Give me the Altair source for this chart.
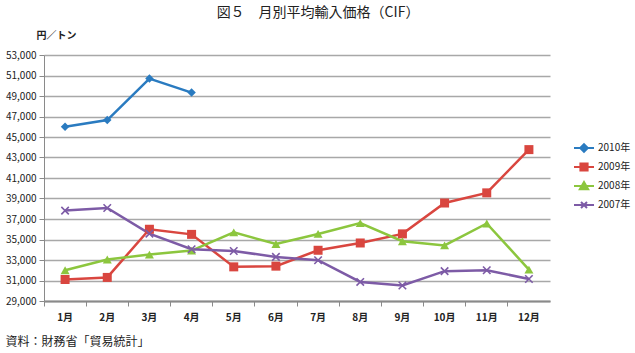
import altair as alt
import pandas as pd

months = ["1月", "2月", "3月", "4月", "5月", "6月", "7月", "8月", "9月", "10月", "11月", "12月"]
series_names = ["2010年", "2009年", "2008年", "2007年"]
v2010 = [46000, 46650, 50700, 49330]
v2009 = [31100, 31300, 36000, 35500, 32330, 32400, 33950, 34660, 35550, 38560, 39550, 43770]
v2008 = [32000, 33050, 33530, 33920, 35700, 34560, 35540, 36600, 34830, 34420, 36560, 32070]
v2007 = [37820, 38070, 35570, 34050, 33880, 33300, 32980, 30860, 30510, 31910, 32000, 31150]
y_ticks = [29000, 31000, 33000, 35000, 37000, 39000, 41000, 43000, 45000, 47000, 49000, 51000, 53000]

colors = ["#2a7bc0", "#d9463f", "#8cc63e", "#7d5ba6"]
marker_shapes = ["diamond", "square", "triangle-up", "M-1,-1L1,1M-1,1L1,-1"]
marker_sizes = [72, 81, 81, 56]
legend_shapes = [
    "M-1,0H1M0,-0.38L0.38,0L0,0.38L-0.38,0Z",
    "M-1,0H1M-0.36,-0.36H0.36V0.36H-0.36Z",
    "M-1,0H1M0,-0.4L0.42,0.33L-0.42,0.33Z",
    "M-1,0H1M-0.3,-0.3L0.3,0.3M-0.3,0.3L0.3,-0.3",
]

rows = []
for name, vals in zip(series_names, [v2010, v2009, v2008, v2007]):
    for m, v in zip(months, vals):
        rows.append({"month": m, "series": name, "value": v})
df = pd.DataFrame(rows)

FONT = "Noto Sans CJK JP"
xscale = alt.Scale(type="band", paddingInner=0, paddingOuter=0)
yenc = alt.Y(
    "value:Q",
    scale=alt.Scale(domain=[29000, 53000], nice=False, zero=False),
    axis=alt.Axis(
        values=y_ticks, format=",d", title="円／トン", titleAngle=0, titleX=-8, titleY=-20,
        titleAlign="left", titleBaseline="middle", titleFont=FONT, titleFontSize=10,
        titleFontWeight="bold", titleColor="#222", gridColor="#a8a8a8", gridWidth=1.5,
        domainColor="#8a8a8a", tickColor="#8a8a8a", tickSize=5, labelFont=FONT,
        labelFontSize=10, labelColor="#222", labelPadding=3,
    ),
)

x_main = alt.X(
    "month:N", sort=months, scale=xscale, bandPosition=0.5,
    axis=alt.Axis(
        orient="bottom", bandPosition=0,
        title="資料：財務省「貿易統計」", titleX=-39, titleY=40, titleAlign="left",
        titleBaseline="middle", titleFont=FONT, titleFontSize=12, titleFontWeight="normal",
        titleColor="#222", labelFont=FONT, labelFontSize=10, labelFontWeight="bold",
        labelColor="#222", labelPadding=6, labelAngle=0, ticks=True, tickSize=5,
        tickColor="#8a8a8a", tickWidth=1, domainColor="#8a8a8a", domainWidth=2, grid=False,
    ),
)

layers = []
for name, c in zip(series_names, colors):
    layers.append(
        alt.Chart(df).transform_filter(alt.datum.series == name).mark_line(
            strokeWidth=2.5, color=c
        ).encode(x=x_main, y=yenc)
    )
for name, c, shp, sz in zip(series_names, colors, marker_shapes, marker_sizes):
    is_path = shp.startswith("M")
    layers.append(
        alt.Chart(df).transform_filter(alt.datum.series == name).mark_point(
            shape=shp, filled=not is_path, size=sz, opacity=1, color=c,
            strokeWidth=1.6 if is_path else 0,
        ).encode(x=x_main, y=yenc)
    )

leg = alt.Legend(
    title=None, orient="none", legendX=529, legendY=82, symbolSize=400,
    symbolStrokeWidth=2, symbolOpacity=1, labelFont=FONT, labelFontSize=10,
    labelColor="#222", labelOffset=3, rowPadding=0,
)
legend_layer = alt.Chart(df).mark_point(filled=True, size=0, strokeWidth=0).encode(
    x=x_main,
    y=yenc,
    fill=alt.Fill("series:N", scale=alt.Scale(domain=series_names, range=colors), legend=leg),
    stroke=alt.Stroke("series:N", scale=alt.Scale(domain=series_names, range=colors), legend=leg),
    shape=alt.Shape("series:N", scale=alt.Scale(domain=series_names, range=legend_shapes), legend=leg),
)
layers.append(legend_layer)

chart = alt.layer(*layers).properties(
    width=506, height=246,
    autosize=alt.AutoSizeParams(type="none"),
    padding={"left": 44, "top": 55, "right": 85, "bottom": 52},
    title=alt.TitleParams(
        "図５　月別平均輸入価格（CIF）", anchor="middle", frame="group", dx=21, offset=10,
        font=FONT, fontSize=14, fontWeight="normal", color="#222",
    ),
    background="white",
).configure_view(stroke=None)

chart.save("out.html", embed_options={"renderer": "svg", "actions": False})
